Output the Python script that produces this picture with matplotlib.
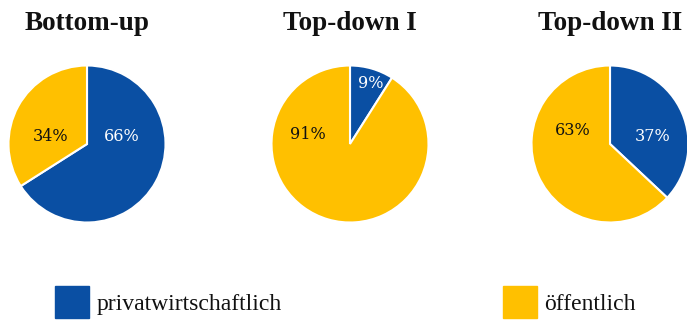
import matplotlib
matplotlib.use("Agg")
import matplotlib.pyplot as plt
from matplotlib.patches import Patch

# Shares per scenario: [privatwirtschaftlich, öffentlich]
titles = ["Bottom-up", "Top-down I", "Top-down II"]
private = [66, 9, 37]
public = [34, 91, 63]
series_names = ["privatwirtschaftlich", "öffentlich"]

blue = "#0a4fa3"
yellow = "#ffc000"

W, H = 687, 320
fig = plt.figure(figsize=(W / 100, H / 100), dpi=100)
plt.rcParams["font.family"] = ["Liberation Serif", "DejaVu Serif"]

centers_x = [87, 350, 610]
center_y = 144
r = 78.5

# where the percentage labels sit inside each pie (radius units)
label_pos = [
    [(0.44, 0.09), (-0.47, 0.09)],
    [(0.26, 0.77), (-0.54, 0.12)],
    [(0.54, 0.09), (-0.47, 0.17)],
]

for i, title in enumerate(titles):
    cx = centers_x[i]
    ax = fig.add_axes([(cx - r) / W, (H - center_y - r) / H, 2 * r / W, 2 * r / H])
    wedges, texts, autotexts = ax.pie(
        [private[i], public[i]],
        colors=[blue, yellow],
        startangle=90,
        counterclock=False,
        radius=1,
        autopct="%d%%",
        wedgeprops=dict(edgecolor="white", linewidth=1.5),
        textprops=dict(fontsize=11.5, family="DejaVu Serif"),
    )
    ax.set_xlim(-1, 1)
    ax.set_ylim(-1, 1)
    for t, pos, col in zip(autotexts, label_pos[i], ["white", "#111111"]):
        t.set_position(pos)
        t.set_color(col)
        t.set_ha("center")
        t.set_va("center")
    fig.text(cx / W, (H - 30) / H, title, ha="center", va="baseline",
             fontsize=19.5, fontweight="bold", color="#111111")

# legend, one entry on each side
for name, col, x in zip(series_names, [blue, yellow], [55, 503]):
    fig.legend(handles=[Patch(facecolor=col, edgecolor=col)], labels=[name],
               loc="center left", bbox_to_anchor=(x / W, (H - 302) / H),
               frameon=False, fontsize=17, borderpad=0, borderaxespad=0,
               handlelength=1.45, handleheight=1.75, handletextpad=0.3,
               labelcolor="#111111")

fig.savefig("out.png", dpi=100)
